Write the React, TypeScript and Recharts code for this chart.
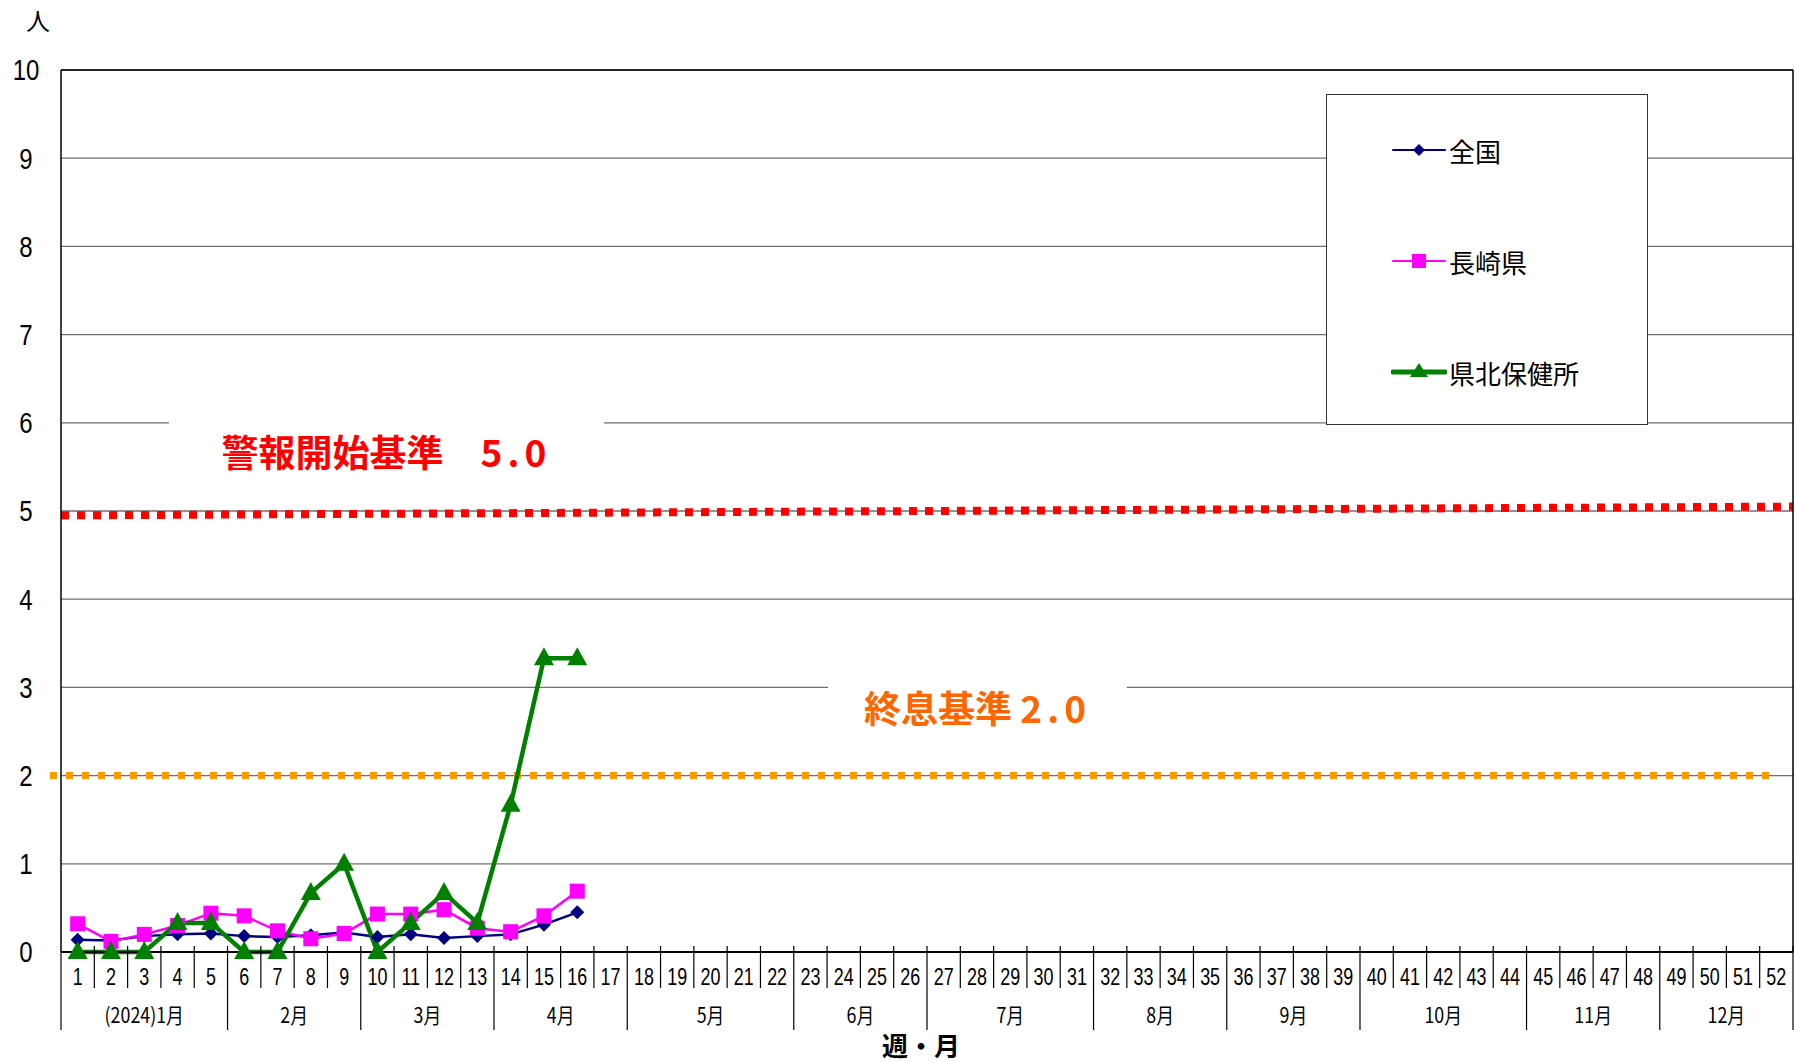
import React from 'react';
import { LineChart, Line, XAxis, YAxis, CartesianGrid, ReferenceLine, ReferenceArea } from 'recharts';

const weeks = Array.from({ length: 52 }, (_, i) => String(i + 1));
const zenkoku = [0.14, 0.13, 0.18, 0.2, 0.21, 0.18, 0.17, 0.19, 0.22, 0.17, 0.2, 0.16, 0.18, 0.2, 0.31, 0.45];
const nagasaki = [0.32, 0.12, 0.2, 0.3, 0.44, 0.41, 0.24, 0.15, 0.21, 0.43, 0.43, 0.48, 0.27, 0.23, 0.41, 0.69];
const kenpoku = [0, 0, 0, 0.33, 0.33, 0, 0, 0.67, 1.0, 0, 0.33, 0.67, 0.33, 1.67, 3.33, 3.33];
const months = ['(2024)1月', '2月', '3月', '4月', '5月', '6月', '7月', '8月', '9月', '10月', '11月', '12月'];
const monthWeeks = [5, 4, 4, 4, 5, 4, 5, 4, 4, 5, 4, 4];
const yTicks = [0, 1, 2, 3, 4, 5, 6, 7, 8, 9, 10];

// week i sits in the middle of its slot on a 0..52 numeric axis
const weekPos = weeks.map((_, i) => i + 0.5);

const data = weeks.map((w, i) => ({
  pos: weekPos[i],
  week: w,
  zenkoku: i < zenkoku.length ? zenkoku[i] : null,
  nagasaki: i < nagasaki.length ? nagasaki[i] : null,
  kenpoku: i < kenpoku.length ? kenpoku[i] : null,
}));

const W = 1794;
const H = 1062;
const PLOT_L = 61;
const PLOT_R = 1793;
const PLOT_B = 952;
const STEP = (PLOT_R - PLOT_L) / weeks.length;

const monthStart: Record<number, number> = {};
const monthEnd = new Set<number>();
{
  let acc = 0;
  monthWeeks.forEach((n, m) => {
    monthStart[acc] = m;
    acc += n;
    monthEnd.add(acc - 1);
  });
}

const sans = '"Liberation Sans", Arial, sans-serif';
const jp = '"Noto Sans CJK JP", sans-serif';

function WeekTick(props: any) {
  const { x, payload } = props;
  const i = Math.round(payload.value - 0.5);
  const left = x - STEP / 2;
  const right = x + STEP / 2;
  const m = monthStart[i];
  return (
    <g>
      <text transform={`translate(${x} ${PLOT_B + 25}) scale(0.78 1)`} textAnchor="middle" dominantBaseline="central" fontSize={23} fontFamily={sans} fill="#000">
        {weeks[i]}
      </text>
      <line x1={right} x2={right} y1={PLOT_B - 6} y2={monthEnd.has(i) ? PLOT_B + 78 : PLOT_B + 36} stroke="#000" strokeWidth={1.2} />
      {i === 0 && <line x1={left} x2={left} y1={PLOT_B} y2={PLOT_B + 78} stroke="#000" strokeWidth={1.2} />}
      {m !== undefined && (
        <text transform={`translate(${left + (monthWeeks[m] * STEP) / 2} ${PLOT_B + 62}) scale(0.85 1)`} textAnchor="middle" dominantBaseline="central" fontSize={21} fontFamily={jp} fill="#000">
          {months[m]}
        </text>
      )}
    </g>
  );
}

function YTick(props: any) {
  const { y, payload } = props;
  return (
    <text transform={`translate(26 ${y}) scale(0.8 1)`} textAnchor="middle" dominantBaseline="central" fontSize={30} fontFamily={sans} fill="#000">
      {payload.value}
    </text>
  );
}

function DiamondDot(props: any) {
  const { cx, cy, value } = props;
  if (value == null || cy == null) return null;
  return <path d={`M${cx},${cy - 7}L${cx + 7},${cy}L${cx},${cy + 7}L${cx - 7},${cy}Z`} fill="#000080" />;
}

function SquareDot(props: any) {
  const { cx, cy, value } = props;
  if (value == null || cy == null) return null;
  return <rect x={cx - 7.5} y={cy - 7.5} width={15} height={15} fill="#FF00FF" />;
}

function TriangleDot(props: any) {
  const { cx, cy, value } = props;
  if (value == null || cy == null) return null;
  return <path d={`M${cx},${cy - 11}L${cx + 10},${cy + 7}L${cx - 10},${cy + 7}Z`} fill="#008000" />;
}

function AreaLabel({ viewBox, text, num, color }: any) {
  if (!viewBox) return null;
  const { x, y, width, height } = viewBox;
  return (
    <text x={x + width / 2} y={y + height / 2 + 4} textAnchor="middle" dominantBaseline="central" fontSize={37} fontWeight="bold" fontFamily={jp} fill={color}>
      {text}
      <tspan letterSpacing={5}>{num}</tspan>
    </text>
  );
}

const legendItems = [
  { name: '全国', color: '#000080', marker: 'diamond', width: 2 },
  { name: '長崎県', color: '#FF00FF', marker: 'square', width: 2 },
  { name: '県北保健所', color: '#008000', marker: 'triangle', width: 5 },
];

function LegendBox() {
  return (
    <div style={{ position: 'absolute', left: 1326, top: 94, width: 322, height: 331, border: '1.5px solid #333', background: '#fff', boxSizing: 'border-box' }}>
      {legendItems.map((it, k) => (
        <div key={it.name} style={{ position: 'absolute', left: 64, top: 38 + k * 111, height: 34, display: 'flex', alignItems: 'center' }}>
          <svg width={56} height={24} style={{ display: 'block' }}>
            <line x1={2} x2={54} y1={12} y2={12} stroke={it.color} strokeWidth={it.width} strokeLinecap="round" />
            {it.marker === 'diamond' && <path d="M28,6L34,12L28,18L22,12Z" fill={it.color} />}
            {it.marker === 'square' && <rect x={21} y={5} width={14} height={14} fill={it.color} />}
            {it.marker === 'triangle' && <path d="M28,3L37,17L19,17Z" fill={it.color} />}
          </svg>
          <span style={{ fontFamily: jp, fontSize: 26, color: '#000', marginLeft: 2 }}>{it.name}</span>
        </div>
      ))}
    </div>
  );
}

export default function App() {
  return (
    <div style={{ position: 'absolute', left: 0, top: 0, width: W, height: H, background: '#fff' }}>
      <div style={{ position: 'absolute', left: 26, top: 2, fontFamily: jp, fontSize: 24, color: '#000' }}>人</div>
      <LineChart width={W} height={H} data={data} margin={{ top: 70, right: 0, left: 0, bottom: 60 }}>
        <CartesianGrid horizontal vertical={false} stroke="#6f6f6f" strokeWidth={1.3} />
        <XAxis dataKey="pos" type="number" domain={[0, 52]} allowDataOverflow ticks={weekPos} interval={0} tick={<WeekTick />} tickLine={false} axisLine={{ stroke: '#000', strokeWidth: 2 }} height={50} />
        <YAxis domain={[0, 10]} ticks={yTicks} tick={<YTick />} tickLine={false} axisLine={{ stroke: '#000', strokeWidth: 1.5 }} width={PLOT_L} interval={0} />
        <YAxis yAxisId="right" orientation="right" domain={[0, 10]} tick={false} tickLine={false} axisLine={{ stroke: '#000', strokeWidth: 1.5 }} width={1} />
        <ReferenceLine y={10} stroke="#000" strokeWidth={1.5} />
        <ReferenceArea x1={3.24} x2={16.3} y1={5.25} y2={6.2} fill="#fff" fillOpacity={1} stroke="none" label={<AreaLabel text={'警報開始基準　'} num="5.0" color="#FF0000" />} />
        <ReferenceArea x1={23.03} x2={32.0} y1={2.45} y2={3.2} fill="#fff" fillOpacity={1} stroke="none" label={<AreaLabel text={'終息基準 '} num="2.0" color="#FF6600" />} />
        <ReferenceLine segment={[{ x: 0, y: 4.95 }, { x: 52, y: 5.05 }]} stroke="#FF0000" strokeWidth={8} strokeDasharray="8 8" ifOverflow="visible" />
        <ReferenceLine segment={[{ x: -0.33, y: 2 }, { x: 51.55, y: 2 }]} stroke="#FF9900" strokeWidth={7} strokeDasharray="7 9" ifOverflow="visible" />
        <Line dataKey="zenkoku" stroke="#000080" strokeWidth={2.5} dot={<DiamondDot />} isAnimationActive={false} connectNulls={false} />
        <Line dataKey="nagasaki" stroke="#FF00FF" strokeWidth={2.5} dot={<SquareDot />} isAnimationActive={false} connectNulls={false} />
        <Line dataKey="kenpoku" stroke="#008000" strokeWidth={4.5} dot={<TriangleDot />} isAnimationActive={false} connectNulls={false} />
      </LineChart>
      <div style={{ position: 'absolute', left: 0, width: 1842, top: 1026, textAlign: 'center', fontFamily: jp, fontSize: 26, fontWeight: 'bold', color: '#000' }}>週・月</div>
      <LegendBox />
    </div>
  );
}
